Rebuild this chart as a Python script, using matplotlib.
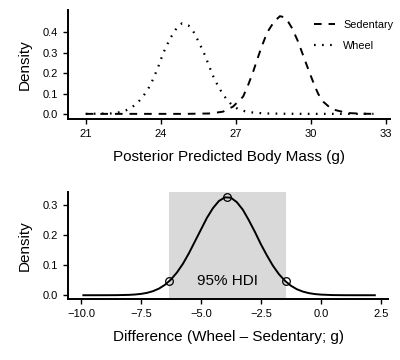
import numpy as np
import matplotlib
matplotlib.use("Agg")
import matplotlib.pyplot as plt

plt.rcParams['font.family'] = ['Liberation Sans', 'DejaVu Sans']
plt.rcParams['lines.scale_dashes'] = False

# posterior predicted body mass densities
sed_x = [21, 25, 26, 26.49, 26.89, 27.29, 27.5, 27.69, 27.86, 28.03, 28.25, 28.52,
         28.76, 28.9, 29.05, 29.25, 29.49, 29.65, 29.83, 30.0, 30.16, 30.3, 30.49,
         30.83, 31.23, 31.5, 32, 32.5]
sed_y = [0, 0, 0.002, 0.011, 0.036, 0.085, 0.145, 0.207, 0.27, 0.33, 0.40, 0.452,
         0.48, 0.476, 0.461, 0.42, 0.354, 0.30, 0.24, 0.185, 0.134, 0.096, 0.06,
         0.023, 0.011, 0.004, 0.001, 0]

wheel_x = [21, 22, 22.36, 22.6, 22.85, 23.05, 23.27, 23.5, 23.69, 23.9, 24.09, 24.36,
           24.65, 24.85, 25.1, 25.3, 25.53, 25.76, 26.07, 26.33, 26.64, 26.85, 27.07,
           27.36, 27.7, 28.2, 29, 30, 32.5]
wheel_y = [0, 0.002, 0.008, 0.017, 0.033, 0.052, 0.082, 0.124, 0.170, 0.232, 0.297,
           0.368, 0.425, 0.445, 0.435, 0.405, 0.35, 0.289, 0.191, 0.126, 0.069, 0.043,
           0.025, 0.013, 0.006, 0.002, 0.0005, 0, 0]

# difference (Wheel - Sedentary)
diff_x = [-9.9, -9, -8.5, -8, -7.75, -7.5, -7.25, -7, -6.75, -6.5, -6.25, -6, -5.75,
          -5.5, -5.25, -5, -4.75, -4.5, -4.25, -4, -3.75, -3.5, -3.25, -3, -2.75,
          -2.5, -2.25, -2, -1.75, -1.5, -1.25, -1, -0.75, -0.5, -0.25, 0, 0.5, 1, 2.25]
diff_y = [0, 0.0001, 0.0003, 0.0012, 0.0024, 0.0044, 0.0078, 0.0134, 0.0219, 0.0344,
          0.0519, 0.0752, 0.104, 0.139, 0.178, 0.217, 0.256, 0.288, 0.312, 0.324,
          0.323, 0.308, 0.283, 0.248, 0.210, 0.169, 0.132, 0.098, 0.070, 0.048,
          0.0316, 0.0199, 0.0121, 0.0070, 0.0039, 0.0021, 0.0005, 0.0001, 0]

hdi_lo, hdi_hi = -6.33, -1.47
mode_x, mode_y = -3.9, 0.326
hdi_y = 0.046

fig = plt.figure(figsize=(4, 3.6), dpi=100)
ax1 = fig.add_axes([0.17, 0.669, 0.805, 0.303])
ax2 = fig.add_axes([0.17, 0.169, 0.80, 0.297])

for ax in (ax1, ax2):
    for s in ('top', 'right'):
        ax.spines[s].set_visible(False)
    for s in ('left', 'bottom'):
        ax.spines[s].set_linewidth(1.4)
    ax.tick_params(direction='out', length=3.6, width=1, labelsize=8, pad=3.6)

ax1.plot(sed_x, sed_y, color='black', lw=1.4, dashes=(5.5, 5), label='Sedentary')
ax1.plot(wheel_x, wheel_y, color='black', lw=1.6, dashes=(1.2, 4.6), label='Wheel')
ax1.set_xlim(20.29, 33.16)
ax1.set_ylim(-0.026, 0.51)
ax1.set_xticks([21, 24, 27, 30, 33])
ax1.set_yticks([0, 0.1, 0.2, 0.3, 0.4])
ax1.set_yticklabels(['0.0', '0.1', '0.2', '0.3', '0.4'])
ax1.set_xlabel('Posterior Predicted Body Mass (g)', fontsize=11, labelpad=8)
ax1.set_ylabel('Density', fontsize=11, labelpad=8)
ax1.legend(loc='upper right', bbox_to_anchor=(1.04, 1.0), frameon=False, fontsize=7.8,
           handlelength=2.0, handletextpad=0.7, labelspacing=1.0)

ax2.axvspan(hdi_lo, hdi_hi, color='#d9d9d9', lw=0)
ax2.plot(diff_x, diff_y, color='black', lw=1.4)
ax2.plot([hdi_lo, mode_x, hdi_hi], [hdi_y, mode_y, hdi_y], 'o', mfc='none',
         mec='black', ms=5.5, mew=0.9)
ax2.text(-3.9, 0.047, '95% HDI', ha='center', va='center', fontsize=11)
ax2.set_xlim(-10.54, 2.8)
ax2.set_ylim(-0.013, 0.341)
ax2.set_xticks([-10, -7.5, -5, -2.5, 0, 2.5])
ax2.set_xticklabels(['\u221210.0', '\u22127.5', '\u22125.0', '\u22122.5', '0.0', '2.5'])
ax2.set_yticks([0, 0.1, 0.2, 0.3])
ax2.set_yticklabels(['0.0', '0.1', '0.2', '0.3'])
ax2.set_xlabel('Difference (Wheel \u2013 Sedentary; g)', fontsize=11, labelpad=8)
ax2.set_ylabel('Density', fontsize=11, labelpad=8)

fig.savefig('out.png', dpi=100)
